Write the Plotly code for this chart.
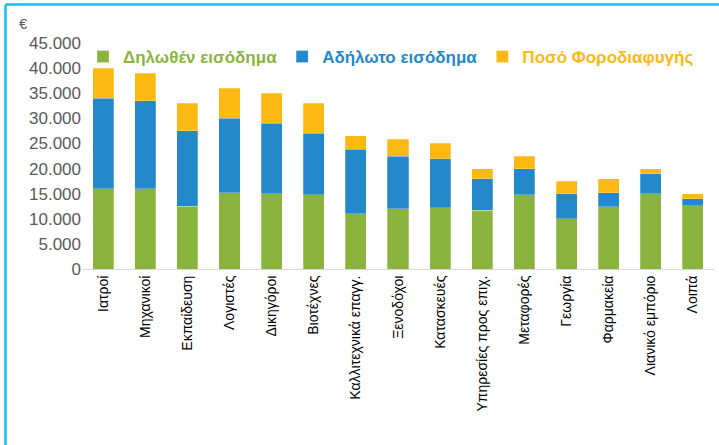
import plotly.graph_objects as go

# categories and stacked values (EUR)
categories = ['Ιατροί', 'Μηχανικοί', 'Εκπαίδευση', 'Λογιστές', 'Δικηγόροι', 'Βιοτέχνες',
              'Καλλιτεχνικά επαγγ.', 'Ξενοδόχοι', 'Κατασκευές', 'Υπηρεσίες προς επιχ.',
              'Μεταφορές', 'Γεωργία', 'Φαρμακεία', 'Λιανικό εμπόριο', 'Λοιπά']
declared = [16000, 16000, 12500, 15200, 15000, 14800, 11000, 12000, 12200, 11700,
            14800, 10000, 12400, 15000, 12600]
undeclared = [18000, 17500, 15000, 14800, 14000, 12200, 12800, 10500, 9800, 6300,
              5200, 5000, 2800, 4000, 1400]
evasion = [6000, 5500, 5500, 6000, 6000, 6000, 2700, 3300, 3000, 2000,
           2500, 2500, 2800, 1000, 1000]
y_ticks = [0, 5000, 10000, 15000, 20000, 25000, 30000, 35000, 40000, 45000]
y_tick_text = ['0', '5.000', '10.000', '15.000', '20.000', '25.000', '30.000',
               '35.000', '40.000', '45.000']

GREEN = '#8BB43F'
BLUE = '#2389CA'
YELLOW = '#FDB913'

W, H = 719, 445
L, R, T, B = 82, 5, 43, 176
pw, ph = W - L - R, H - T - B


def legend_name(txt, col):
    return "<span style='color:%s'><b>%s</b></span>" % (col, txt)


fig = go.Figure()
fig.add_trace(go.Bar(x=categories, y=declared, name=legend_name('Δηλωθέν εισόδημα', GREEN),
                     marker=dict(color=GREEN, line=dict(color='rgba(255,255,255,0.5)', width=0.5))))
fig.add_trace(go.Bar(x=categories, y=undeclared, name=legend_name('Αδήλωτο εισόδημα', BLUE),
                     marker=dict(color=BLUE, line=dict(color='rgba(255,255,255,0.5)', width=0.5))))
fig.add_trace(go.Bar(x=categories, y=evasion, name=legend_name('Ποσό Φοροδιαφυγής', YELLOW),
                     marker=dict(color=YELLOW, line=dict(color='rgba(255,255,255,0.5)', width=0.5))))

fig.update_layout(
    barmode='stack',
    bargap=0.5,
    width=W, height=H,
    margin=dict(l=L, r=R, t=T, b=B),
    paper_bgcolor='white', plot_bgcolor='white',
    font=dict(family='Liberation Sans, Arial, sans-serif'),
    legend=dict(orientation='h', x=(83 - L) / pw, xanchor='left',
                y=(H - B - 57) / ph, yanchor='middle',
                font=dict(size=17), bgcolor='rgba(0,0,0,0)', itemwidth=30,
                traceorder='normal'),
    xaxis=dict(tickangle=-90, tickfont=dict(size=14, color='black'), automargin=False,
               showline=True, linecolor='#D9D9D9', linewidth=1, ticks=''),
    yaxis=dict(range=[0, 45000], tickvals=y_ticks, ticktext=y_tick_text, automargin=False,
               tickfont=dict(size=17, color='#595959'), showgrid=False,
               zeroline=False, showline=False, ticks=''),
    annotations=[dict(text='€', xref='paper', yref='paper',
                      x=(17 - L) / pw, y=(H - B - 23) / ph, xanchor='left', yanchor='middle',
                      showarrow=False, font=dict(size=15, color='#595959'))],
)

# light blue frame lines (top and left)
x_left = (5.5 - L) / pw
x_right = (W - L) / pw
y_top = (H - B - 4.5) / ph
y_bot = (H - B - H) / ph
fig.add_shape(type='line', xref='paper', yref='paper', x0=x_left, x1=x_right, y0=y_top, y1=y_top,
              line=dict(color='#1EBBEE', width=2.5))
fig.add_shape(type='line', xref='paper', yref='paper', x0=x_left, x1=x_left, y0=y_top, y1=y_bot,
              line=dict(color='#1EBBEE', width=2.5))

# page body has a default margin; remove it so the figure fills the window
fig.write_html("out.html", config={'displayModeBar': False},
               post_script="document.body.style.margin='0';")
